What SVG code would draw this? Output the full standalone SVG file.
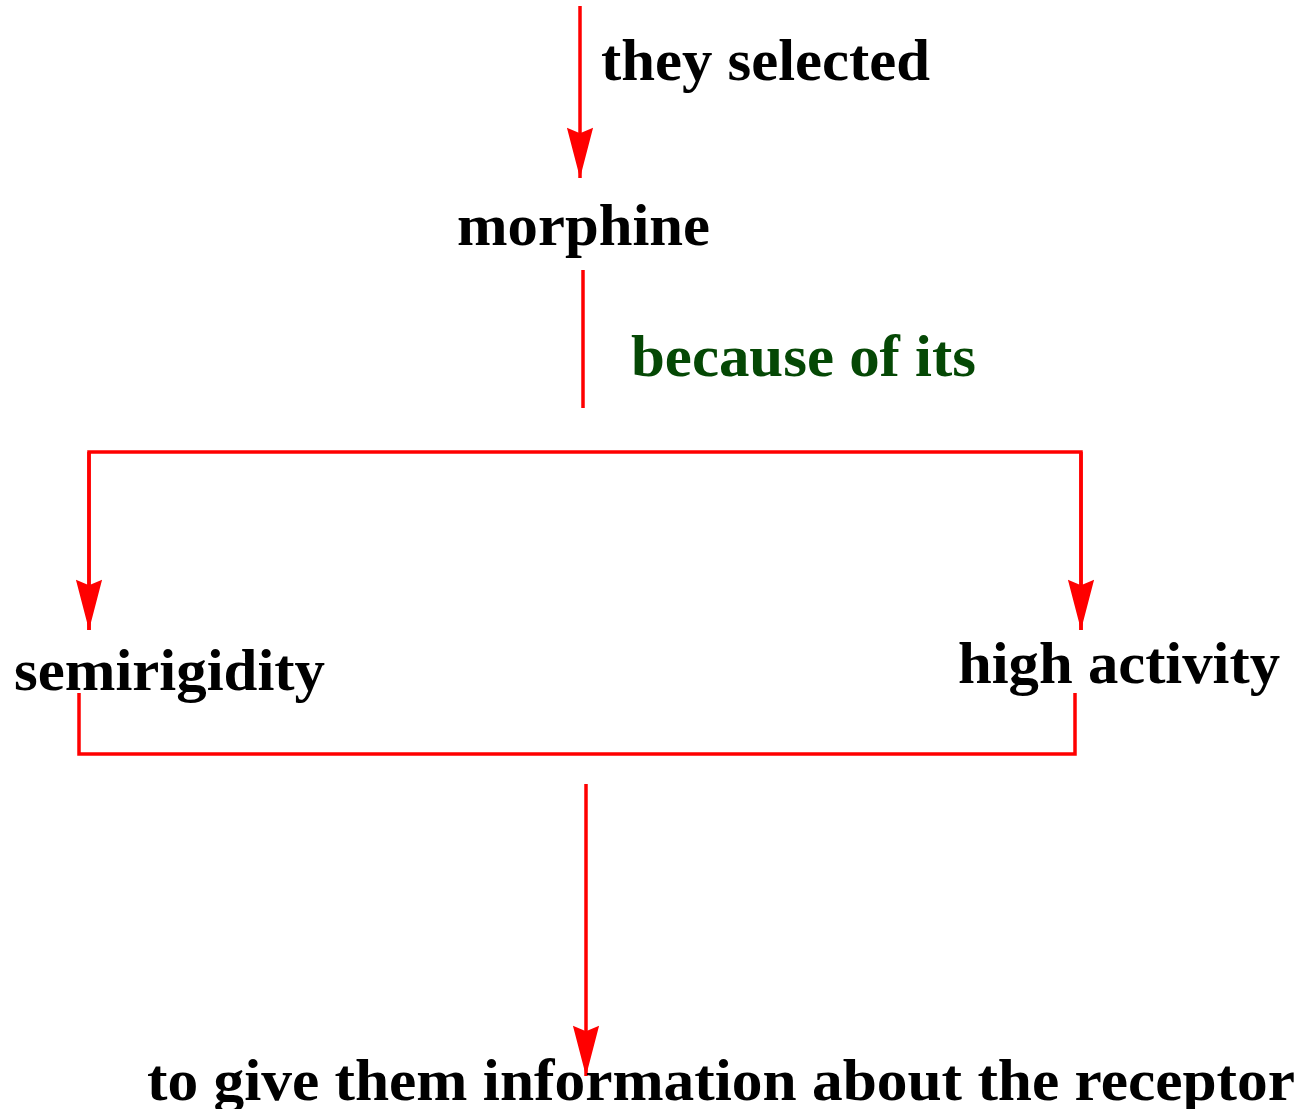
<svg xmlns="http://www.w3.org/2000/svg" width="1300" height="1109" viewBox="0 0 1300 1109">
<defs>
<style>
.t{font-family:"Liberation Serif","Times New Roman",serif;font-weight:bold;font-size:60px;fill:#000}
.g{fill:#054805}
.c{stroke:#ff0000;stroke-width:3.5;fill:none}
</style>
<marker id="ah" markerUnits="userSpaceOnUse" markerWidth="60" markerHeight="40" viewBox="-50 -15 55 30" refX="0" refY="0" orient="auto">
<path d="M0,0 L-46,-12 L-41,0 L-46,12 Z" fill="#ff0000"/>
</marker>
</defs>
<rect width="1300" height="1109" fill="#fff"/>
<g id="connectors">
<line class="c" x1="580" y1="6" x2="580" y2="178" marker-end="url(#ah)"/>
<line class="c" x1="583" y1="270" x2="583" y2="408"/>
<polyline class="c" points="89,630 89,452 1081,452 1081,630"/>
<line class="c" x1="89" y1="452" x2="89" y2="630" marker-end="url(#ah)"/>
<line class="c" x1="1081" y1="452" x2="1081" y2="630" marker-end="url(#ah)"/>
<polyline class="c" points="79,693 79,754 1075,754 1075,693"/>
<line class="c" x1="586" y1="784" x2="586" y2="1076" marker-end="url(#ah)"/>
</g>
<g id="label-they-selected"><text class="t" x="601" y="80" textLength="329" lengthAdjust="spacingAndGlyphs">they selected</text></g>
<g id="node-morphine"><text class="t" x="457" y="245" textLength="253" lengthAdjust="spacingAndGlyphs">morphine</text></g>
<g id="label-because"><text class="t g" x="631" y="376" textLength="345" lengthAdjust="spacingAndGlyphs">because of its</text></g>
<g id="node-semirigidity"><text class="t" x="14" y="690" textLength="311" lengthAdjust="spacingAndGlyphs">semirigidity</text></g>
<g id="node-high-activity"><text class="t" x="958" y="683" textLength="322" lengthAdjust="spacingAndGlyphs">high activity</text></g>
<g id="node-receptor"><text class="t" x="147" y="1100" textLength="1148" lengthAdjust="spacingAndGlyphs">to give them information about the receptor</text></g>
</svg>
